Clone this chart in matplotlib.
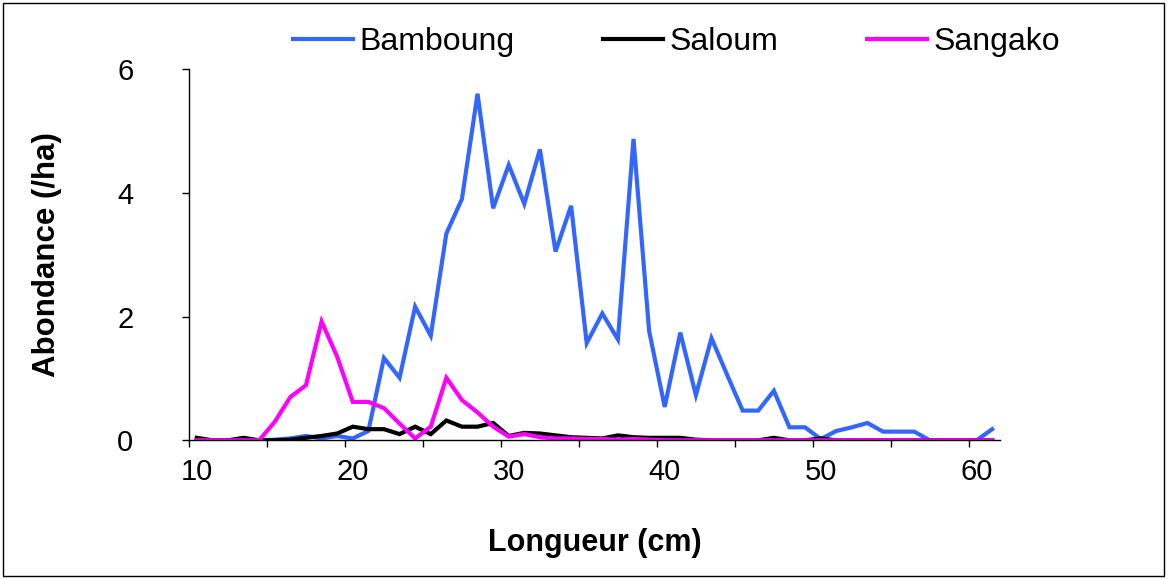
import matplotlib
matplotlib.use("Agg")
import matplotlib.pyplot as plt
from matplotlib.patches import Rectangle

lengths = list(range(10, 62))
bamboung = [0, 0, 0, 0, 0, 0.01, 0.03, 0.07, 0.03, 0.07,
            0.03, 0.15, 1.33, 1.01, 2.16, 1.69, 3.34, 3.90, 5.60, 3.75,
            4.45, 3.82, 4.70, 3.05, 3.79, 1.57, 2.05, 1.63, 4.87, 1.77,
            0.54, 1.74, 0.73, 1.65, 1.06, 0.48, 0.48, 0.80, 0.21, 0.21,
            0.02, 0.15, 0.21, 0.28, 0.14, 0.14, 0.14, 0, 0, 0,
            0, 0.18]
saloum = [0.04, 0, 0, 0.04, 0, 0, 0.01, 0.04, 0.07, 0.11,
          0.22, 0.18, 0.18, 0.10, 0.22, 0.10, 0.32, 0.22, 0.22, 0.28,
          0.07, 0.12, 0.11, 0.08, 0.05, 0.04, 0.03, 0.08, 0.05, 0.04,
          0.04, 0.04, 0.01, 0, 0, 0, 0, 0.04, 0, 0,
          0.03, 0, 0, 0, 0, 0, 0, 0, 0, 0,
          0, 0]
sangako = [0, 0, 0, 0, 0, 0.30, 0.70, 0.89, 1.92, 1.35,
           0.62, 0.62, 0.52, 0.27, 0.03, 0.22, 1.01, 0.65, 0.45, 0.22,
           0.06, 0.10, 0.05, 0.03, 0.03, 0.02, 0.02, 0.01, 0.02, 0.01,
           0, 0, 0, 0, 0, 0, 0, 0, 0, 0,
           0, 0, 0, 0, 0, 0, 0, 0, 0, 0,
           0, 0]
series_names = ["Bamboung", "Saloum", "Sangako"]
colors = ["#3366FF", "#000000", "#FF00FF"]
xtick_labels = [10, 20, 30, 40, 50, 60]
ytick_values = [0, 2, 4, 6]

plt.rcParams['font.family'] = ['Liberation Sans', 'DejaVu Sans']

W, H = 1168, 579
fig = plt.figure(figsize=(W / 100, H / 100), dpi=100)
ax = fig.add_axes([189 / W, 1 - 440.3 / H, (1000 - 189) / W, (440.3 - 69) / H])

for name, vals, c in zip(series_names, [bamboung, saloum, sangako], colors):
    ax.plot(lengths, vals, color=c, lw=3, label=name, solid_joinstyle='miter')

ax.set_xlim(9.5, 61.5)
ax.set_ylim(0, 6)
ax.set_xticks(xtick_labels)
ax.set_xticklabels([str(v) for v in xtick_labels])
ax.set_xticks([9.5 + 5 * k for k in range(11)], minor=True)
ax.tick_params(axis='x', which='major', length=0, pad=13, labelsize=21)
ax.tick_params(axis='x', which='minor', length=5, width=1, direction='out')
ax.set_yticks(ytick_values)
ax.set_yticklabels([str(v) for v in ytick_values])
ax.tick_params(axis='y', which='major', length=5, width=1, direction='out', pad=35, labelsize=21)

for s in ['top', 'right']:
    ax.spines[s].set_visible(False)
for s in ['left', 'bottom']:
    ax.spines[s].set_linewidth(1)

fig.text(594.5 / W, 1 - 543 / H, "Longueur (cm)", ha='center', va='center',
         fontsize=22, fontweight='bold')
fig.text(47 / W, 1 - 255 / H, "Abondance (/ha)", ha='center', va='center',
         fontsize=22.5, fontweight='bold', rotation=90)

fig.legend(loc='center', bbox_to_anchor=(676.5 / W, 1 - 42 / H), ncol=3,
           frameon=False, fontsize=23, handlelength=1.88, handletextpad=0.22,
           columnspacing=2.75, borderpad=0, borderaxespad=0)

fig.add_artist(Rectangle((3 / W, 3 / H), (1164 - 3) / W, (576 - 3) / H,
                         transform=fig.transFigure, fill=False, lw=1, ec='black'))

fig.savefig("out.png", dpi=100)
